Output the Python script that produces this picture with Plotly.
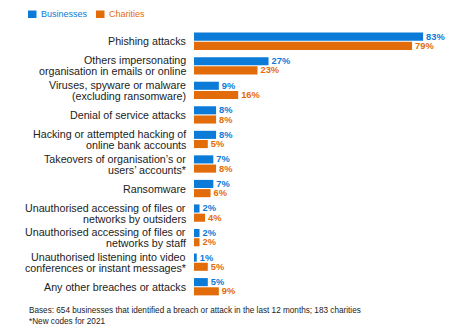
import plotly.graph_objects as go

categories = [
    "Phishing attacks",
    "Others impersonating<br>organisation in emails or online",
    "Viruses, spyware or malware<br>(excluding ransomware)",
    "Denial of service attacks",
    "Hacking or attempted hacking of<br>online bank accounts",
    "Takeovers of organisation’s or<br>users’ accounts*",
    "Ransomware",
    "Unauthorised accessing of files or<br>networks by outsiders",
    "Unauthorised accessing of files or<br>networks by staff",
    "Unauthorised listening into video<br>conferences or instant messages*",
    "Any other breaches or attacks",
]
businesses = [83, 27, 9, 8, 8, 7, 7, 2, 2, 1, 5]
charities = [79, 23, 16, 8, 5, 8, 6, 4, 2, 5, 9]
series_names = ["Businesses", "Charities"]

BLUE = "#0B7BD7"
ORANGE = "#E36C0A"
FONT = "Liberation Sans, Arial, sans-serif"

W, H = 468, 332
ML, MR, MT, MB = 194, 9, 29, 33
PW, PH = W - ML - MR, H - MT - MB


def px_x(x):
    return (x - ML) / PW


def px_y(y):
    return (H - MB - y) / PH


fig = go.Figure()
for name, vals, col in zip(series_names, [businesses, charities], [BLUE, ORANGE]):
    fig.add_trace(go.Bar(
        y=categories, x=vals, orientation="h", name=name,
        marker=dict(color=col, line=dict(width=0)),
        text=[f"{v}%" for v in vals],
        textposition="outside", constraintext="none",
        textfont=dict(family=FONT, size=9.3, color=col, weight="bold"),
        cliponaxis=False, showlegend=False,
    ))

annotations = []
# category labels, one annotation per line for tight line spacing
for cat in categories:
    lines = cat.split("<br>")
    n = len(lines)
    for i, line in enumerate(lines):
        annotations.append(dict(
            xref="paper", yref="y", x=px_x(188), y=cat, xanchor="right", yanchor="middle",
            yshift=(n - 1) * 5.5 - i * 11, text=line, showarrow=False,
            font=dict(family=FONT, size=10.7, color="#222222"),
        ))

# legend
shapes = []
for name, col, x0, tx in [(series_names[0], BLUE, 28, 39), (series_names[1], ORANGE, 96, 107)]:
    shapes.append(dict(type="rect", xref="paper", yref="paper",
                       x0=px_x(x0), x1=px_x(x0 + 8.5), y0=px_y(18), y1=px_y(10.5),
                       fillcolor=col, line=dict(width=0)))
    annotations.append(dict(xref="paper", yref="paper", x=px_x(tx), y=px_y(14),
                            xanchor="left", yanchor="middle", text=name, showarrow=False,
                            font=dict(family=FONT, size=9, color=col)))

# footnotes
for txt, yy in [("Bases: 654 businesses that identified a breach or attack in the last 12 months; 183 charities", 310.5),
                ("*New codes for 2021", 321)]:
    annotations.append(dict(xref="paper", yref="paper", x=px_x(27), y=px_y(yy),
                            xanchor="left", yanchor="middle", text=txt, showarrow=False,
                            font=dict(family=FONT, size=8.2, color="#222222")))

fig.update_layout(
    width=W, height=H,
    margin=dict(l=ML, r=MR, t=MT, b=MB, autoexpand=False),
    paper_bgcolor="white", plot_bgcolor="white",
    barmode="group", bargap=0.25, bargroupgap=0.12,
    font=dict(family=FONT, size=11, color="#222222"),
    showlegend=False,
    xaxis=dict(range=[0, 96], visible=False, fixedrange=True),
    yaxis=dict(autorange="reversed", showgrid=False, showline=False, ticks="",
               showticklabels=False),
    shapes=shapes,
    annotations=annotations,
)

fig.write_html("out.html")
